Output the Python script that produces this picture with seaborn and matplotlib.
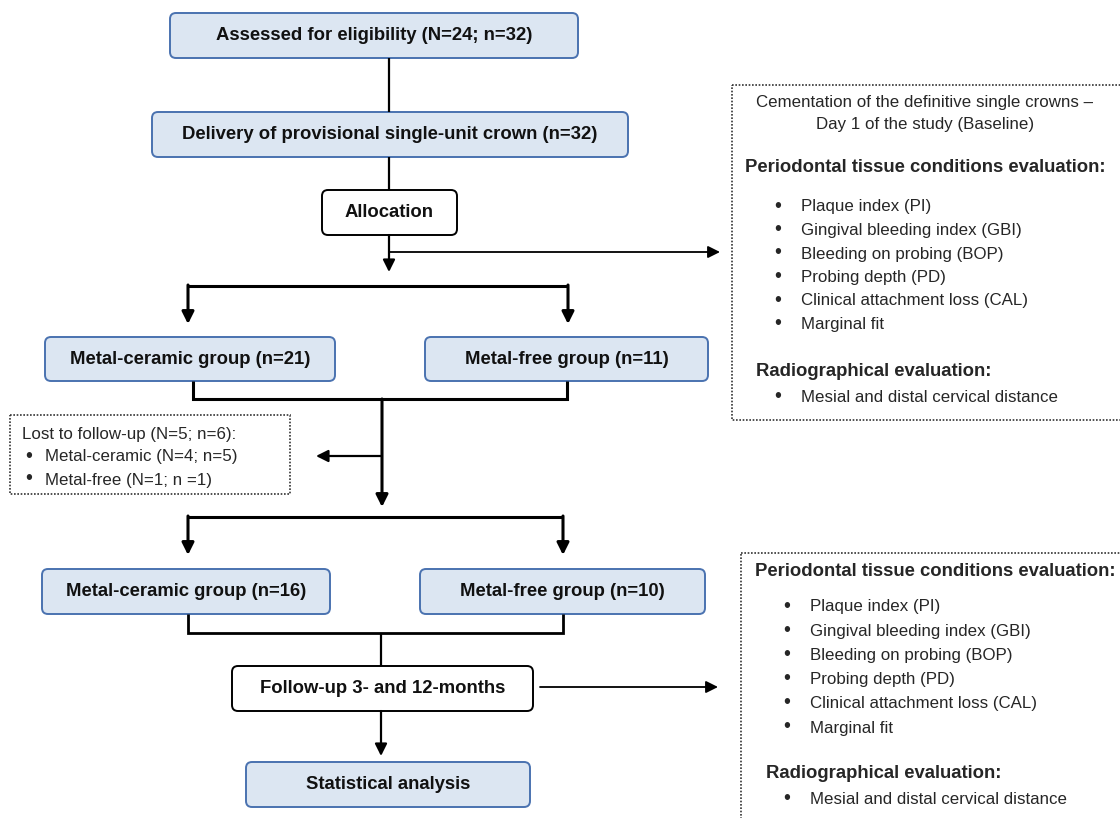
import matplotlib
matplotlib.use("Agg")
import matplotlib.pyplot as plt
from matplotlib.patches import FancyBboxPatch, Rectangle
import seaborn as sns

sns.set_theme(style="white")
plt.rcParams['font.family'] = ['Liberation Sans', 'DejaVu Sans']

# flow boxes: label, (x0, y0, x1, y1) in pixel space, filled or not
box_labels = [
    "Assessed for eligibility (N=24; n=32)",
    "Delivery of provisional single-unit crown (n=32)",
    "Allocation",
    "Metal-ceramic group (n=21)",
    "Metal-free group (n=11)",
    "Metal-ceramic group (n=16)",
    "Metal-free group (n=10)",
    "Follow-up 3- and 12-months",
    "Statistical analysis",
]
box_extents = [
    (170, 13, 578, 58),
    (152, 112, 628, 157),
    (322, 190, 457, 235),
    (45, 337, 335, 381),
    (425, 337, 708, 381),
    (42, 569, 330, 614),
    (420, 569, 705, 614),
    (232, 666, 533, 711),
    (246, 762, 530, 807),
]
box_filled = [True, True, False, True, True, True, True, False, True]

lost_title = "Lost to follow-up (N=5; n=6):"
lost_items = ["Metal-ceramic (N=4; n=5)", "Metal-free (N=1; n =1)"]

baseline_title = ["Cementation of the definitive single crowns \u2013",
                  "Day 1 of the study (Baseline)"]
perio_header = "Periodontal tissue conditions evaluation:"
perio_items = ["Plaque index (PI)", "Gingival bleeding index (GBI)",
               "Bleeding on probing (BOP)", "Probing depth (PD)",
               "Clinical attachment loss (CAL)", "Marginal fit"]
radio_header = "Radiographical evaluation:"
radio_items = ["Mesial and distal cervical distance"]

FILL = "#dce6f2"
EDGE = "#4a72b0"
BOLD_FS = 13.3
HEAD_FS = 13.3
REG_FS = 12.2

fig = plt.figure(figsize=(11.2, 8.18), dpi=100)
ax = fig.add_axes([0, 0, 1, 1])
ax.set_xlim(0, 1120)
ax.set_ylim(818, 0)
ax.axis("off")

for label, (x0, y0, x1, y1), filled in zip(box_labels, box_extents, box_filled):
    p = FancyBboxPatch((x0 + 6, y0 + 6), x1 - x0 - 12, y1 - y0 - 12,
                       boxstyle="round,pad=6",
                       facecolor=FILL if filled else "white",
                       edgecolor=EDGE if filled else "black", lw=1.4)
    ax.add_patch(p)
    ax.text((x0 + x1) / 2, (y0 + y1) / 2, label, ha="center", va="center",
            fontsize=BOLD_FS, fontweight="bold", color="#111111")


def line(xs, ys, lw=1.6):
    ax.plot(xs, ys, color="black", lw=lw, solid_capstyle="butt",
            solid_joinstyle="miter")


def arrow(x0, y0, x1, y1, lw=1.6):
    ax.annotate("", xy=(x1, y1), xytext=(x0, y0),
                arrowprops=dict(arrowstyle="-|>,head_length=0.6,head_width=0.3",
                                color="black", lw=lw, shrinkA=0, shrinkB=0))


def bullet(x, y):
    ax.text(x, y - 1, "\u2022", ha="center", va="center", fontsize=REG_FS + 2)


# connectors
line([389, 389], [58, 112])
line([389, 389], [157, 190])
arrow(389, 235, 389, 272)
arrow(389, 252, 720, 252, lw=1.3)
line([188, 568], [286, 286], lw=2.2)
arrow(188, 285, 188, 324, lw=2.2)
arrow(568, 285, 568, 324, lw=2.2)

line([193, 193, 567, 567], [381, 399, 399, 381], lw=2.2)
arrow(382, 399, 382, 507, lw=2.2)
arrow(382, 456, 316, 456, lw=1.6)
line([188, 563], [517, 517], lw=2.2)
arrow(188, 516, 188, 555, lw=2.2)
arrow(563, 516, 563, 555, lw=2.2)

line([188, 188, 563, 563], [614, 633, 633, 614], lw=2.0)
line([381, 381], [633, 666], lw=1.6)
arrow(540, 687, 718, 687, lw=1.3)
arrow(381, 711, 381, 756, lw=1.6)

# dotted side boxes
for (x0, y0, x1, y1) in [(10, 415, 290, 494), (732, 85, 1125, 420),
                         (741, 553, 1125, 825)]:
    ax.add_patch(Rectangle((x0, y0), x1 - x0, y1 - y0, fill=False,
                           edgecolor="#333333", lw=1.2, linestyle=(0, (1, 1))))

# lost to follow-up
ax.text(22, 434, lost_title, ha="left", va="center", fontsize=REG_FS)
for i, item in enumerate(lost_items):
    yy = 457 + i * 23
    bullet(29, yy)
    ax.text(45, yy, item, ha="left", va="center", fontsize=REG_FS)

# baseline box
ax.text(925, 103, baseline_title[0], ha="center", va="center", fontsize=REG_FS)
ax.text(925, 125, baseline_title[1], ha="center", va="center", fontsize=REG_FS)
ax.text(745, 168, perio_header, ha="left", va="center", fontsize=HEAD_FS,
        fontweight="bold")
for i, item in enumerate(perio_items):
    yy = 207 + i * 23.5
    bullet(778, yy)
    ax.text(801, yy, item, ha="left", va="center", fontsize=REG_FS)
ax.text(756, 371, radio_header, ha="left", va="center", fontsize=HEAD_FS,
        fontweight="bold")
for item in radio_items:
    bullet(778, 397)
    ax.text(801, 397, item, ha="left", va="center", fontsize=REG_FS)

# follow-up box
ax.text(755, 571, perio_header, ha="left", va="center", fontsize=HEAD_FS,
        fontweight="bold")
for i, item in enumerate(perio_items):
    yy = 607 + i * 24.2
    bullet(787, yy)
    ax.text(810, yy, item, ha="left", va="center", fontsize=REG_FS)
ax.text(766, 774, radio_header, ha="left", va="center", fontsize=HEAD_FS,
        fontweight="bold")
for item in radio_items:
    bullet(787, 799)
    ax.text(810, 799, item, ha="left", va="center", fontsize=REG_FS)

fig.savefig("out.png", dpi=100)
